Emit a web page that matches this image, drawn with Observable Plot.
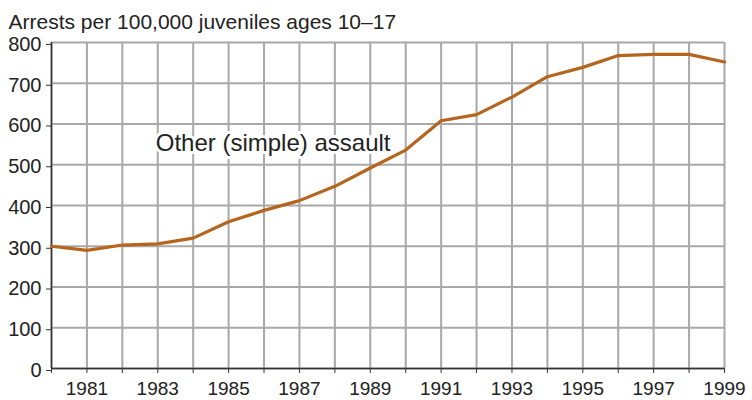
<!DOCTYPE html>
<html>
<head>
<meta charset="utf-8">
<script src="https://cdn.jsdelivr.net/npm/d3@7"></script>
<script src="https://cdn.jsdelivr.net/npm/@observablehq/plot@0.6"></script>
<style>
  body { margin: 0; background: #fff; }
  svg { font-family: "Liberation Sans", Arial, sans-serif; }
</style>
</head>
<body>
<div id="chart"></div>
<script>
const years = [1980,1981,1982,1983,1984,1985,1986,1987,1988,1989,1990,1991,1992,1993,1994,1995,1996,1997,1998,1999];
const rates = [300,290,303,306,320,360,388,412,447,492,536,608,623,666,716,739,768,771,771,752];
const yTicks = [0,100,200,300,400,500,600,700,800];
const titleText = "Arrests per 100,000 juveniles ages 10–17";
const seriesLabel = "Other (simple) assault";

const data = years.map((y, i) => ({year: y, rate: rates[i]}));

const chart = Plot.plot({
  width: 752,
  height: 400,
  marginLeft: 51,
  marginRight: 28,
  marginTop: 42,
  marginBottom: 32,
  style: {fontFamily: "Liberation Sans, Arial, sans-serif", background: "#fff"},
  x: {domain: [1980, 1999]},
  y: {domain: [0, 800]},
  marks: [
    Plot.gridX(years, {stroke: "#a8a8a8", strokeOpacity: 1, strokeWidth: 2}),
    Plot.gridY(yTicks, {stroke: "#a8a8a8", strokeOpacity: 1, strokeWidth: 2}),
    Plot.axisY(yTicks, {tickSize: 5, tickPadding: 5, fontSize: 20, fill: "#222", stroke: "#333", label: null, dy: 2}),
    Plot.axisX(years, {tickSize: 5, tickPadding: 7.5, fontSize: 19, fill: "#222", stroke: "#333", label: null,
      tickFormat: d => (d % 2 === 1 ? String(d) : "")}),
    Plot.ruleX([1980], {stroke: "#333", strokeWidth: 1.5}),
    Plot.ruleY([0], {stroke: "#333", strokeWidth: 1.5}),
    Plot.line(data, {x: "year", y: "rate", stroke: "#b5651d", strokeWidth: 3.2}),
    Plot.text([seriesLabel], {x: 1983, y: 552, text: d => d, textAnchor: "start", dx: -2, fontSize: 24, fill: "#222",
      stroke: "#fff", strokeWidth: 6}),
    Plot.text([titleText], {frameAnchor: "top-left", text: d => d, dx: -43, dy: -20.7, lineAnchor: "middle",
      fontSize: 21, fill: "#222", textAnchor: "start"})
  ]
});
document.getElementById("chart").appendChild(chart);
</script>
</body>
</html>
